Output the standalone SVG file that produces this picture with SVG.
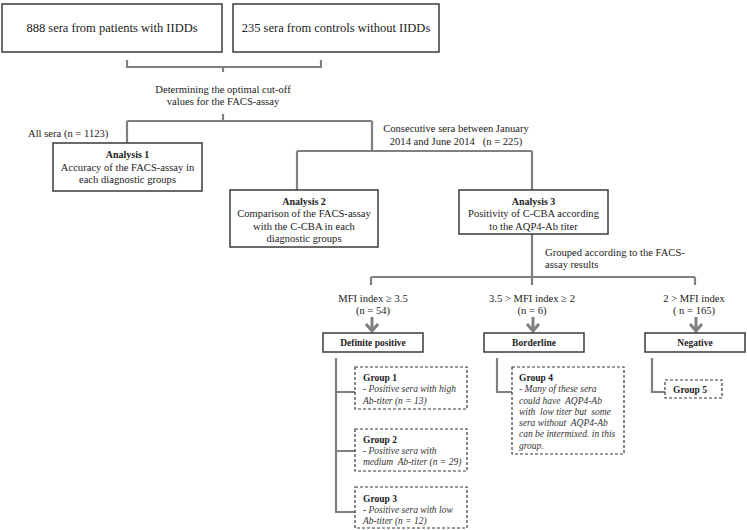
<svg xmlns="http://www.w3.org/2000/svg" width="747" height="530" viewBox="0 0 747 530">
<style>
text{font-family:"Liberation Serif","Times New Roman",serif;fill:#222;font-size:10.6px}
.c{text-anchor:middle}
.top{font-size:12.5px}
.b{font-weight:bold;font-size:10px}
.bs{font-weight:bold;font-size:9.5px}
.i{font-style:italic;font-size:9.5px;fill:#333}
.box{fill:#fff;stroke:#3a3a3a;stroke-width:1.5}
.dbox{fill:#fff;stroke:#3a3a3a;stroke-width:1.2;stroke-dasharray:3 2}
.ln{fill:none;stroke:#808080;stroke-width:2.2}
.arr{fill:none;stroke:#808080;stroke-width:3}
</style>
<defs>
<g id="arrow"><path class="arr" d="M0,317 V331 M-6,324 L0,331 L6,324"/></g>
</defs>
<g id="connectors">
<path class="ln" d="M127,60 V67 H321 V60 M223,67 V72"/>
<path class="ln" d="M223,114 V121 M127,121 H372 M127,121 V143 M372,121 V151 M297,151 H532 M297,151 V190 M532,151 V190"/>
<path class="ln" d="M532,234 V277 M371,277 H695 M371,277 V285 M532,277 V285 M695,277 V285"/>
<use href="#arrow" x="372"/>
<use href="#arrow" x="533"/>
<use href="#arrow" x="696"/>
<path class="ln" d="M336,358 V512 H355 M336,392 H355 M336,451 H355"/>
<path class="ln" d="M497,358 V392 H512"/>
<path class="ln" d="M652,358 V392 H665"/>
</g>
<g id="patients"><rect class="box" x="2" y="4" width="220" height="48"/><text class="c top" x="112" y="32">888 sera from patients with IIDDs</text></g>
<g id="controls"><rect class="box" x="233" y="4" width="206" height="48"/><text class="c top" x="336" y="32">235 sera from controls without IIDDs</text></g>
<g id="cutoff-label"><text class="c" x="223" y="93">Determining the optimal cut-off</text><text class="c" x="223" y="105">values for the FACS-assay</text></g>
<g id="allsera-label"><text x="28" y="137">All sera (n = 1123)</text></g>
<g id="consecutive-label"><text class="c" x="456" y="132">Consecutive sera between January</text><text class="c" x="456" y="145" xml:space="preserve">2014 and June 2014   (n = 225)</text></g>
<g id="analysis1"><rect class="box" x="53" y="143" width="149" height="48"/><text class="c b" x="127.5" y="158">Analysis 1</text><text class="c" x="127.5" y="171">Accuracy of the FACS-assay in</text><text class="c" x="127.5" y="183">each diagnostic groups</text></g>
<g id="analysis2"><rect class="box" x="230" y="190" width="148" height="57"/><text class="c b" x="304" y="205">Analysis 2</text><text class="c" x="304" y="217">Comparison of the FACS-assay</text><text class="c" x="304" y="230">with the C-CBA in each</text><text class="c" x="304" y="242">diagnostic groups</text></g>
<g id="analysis3"><rect class="box" x="459" y="190" width="149" height="44"/><text class="c b" x="533.5" y="205">Analysis 3</text><text class="c" x="533.5" y="217">Positivity of C-CBA according</text><text class="c" x="533.5" y="230">to the AQP4-Ab titer</text></g>
<g id="grouped-label"><text x="545" y="256">Grouped according to the FACS-</text><text x="545" y="268">assay results</text></g>
<g id="mfi-labels">
<text class="c" x="373" y="302">MFI index ≥ 3.5</text><text class="c" x="373" y="314">(n = 54)</text>
<text class="c" x="532" y="302">3.5 &gt; MFI index ≥ 2</text><text class="c" x="532" y="314">(n = 6)</text>
<text class="c" x="694" y="302">2 &gt; MFI index</text><text class="c" x="694" y="314">( n = 165)</text>
</g>
<g id="definite-positive"><rect class="box" x="323" y="333" width="100" height="19"/><text class="c bs" x="373" y="346">Definite positive</text></g>
<g id="borderline"><rect class="box" x="484" y="333" width="100" height="19"/><text class="c bs" x="534" y="346">Borderline</text></g>
<g id="negative"><rect class="box" x="645" y="333" width="100" height="19"/><text class="c bs" x="695" y="346">Negative</text></g>
<g id="group1"><rect class="dbox" x="355" y="367" width="112" height="42"/><text class="bs" x="363" y="381">Group 1</text><text class="i" x="363" y="392">- Positive sera with high</text><text class="i" x="363" y="404">Ab-titer (n = 13)</text></g>
<g id="group2"><rect class="dbox" x="355" y="429" width="112" height="42"/><text class="bs" x="363" y="443">Group 2</text><text class="i" x="363" y="454">- Positive sera with</text><text class="i" x="363" y="465" xml:space="preserve">medium  Ab-titer (n = 29)</text></g>
<g id="group3"><rect class="dbox" x="355" y="487" width="112" height="41"/><text class="bs" x="363" y="502">Group 3</text><text class="i" x="363" y="513">- Positive sera with low</text><text class="i" x="363" y="524">Ab-titer (n = 12)</text></g>
<g id="group4"><rect class="dbox" x="512" y="367" width="112" height="87"/><text class="bs" x="519" y="381">Group 4</text><text class="i" x="519" y="392">- Many of these sera</text><text class="i" x="519" y="404" xml:space="preserve">could have  AQP4-Ab</text><text class="i" x="519" y="415" xml:space="preserve">with  low titer but  some</text><text class="i" x="519" y="426" xml:space="preserve">sera without  AQP4-Ab</text><text class="i" x="519" y="437">can be intermixed. in this</text><text class="i" x="519" y="449">group.</text></g>
<g id="group5"><rect class="dbox" x="665" y="380" width="57" height="18"/><text class="bs" x="673" y="393">Group 5</text></g>
</svg>
